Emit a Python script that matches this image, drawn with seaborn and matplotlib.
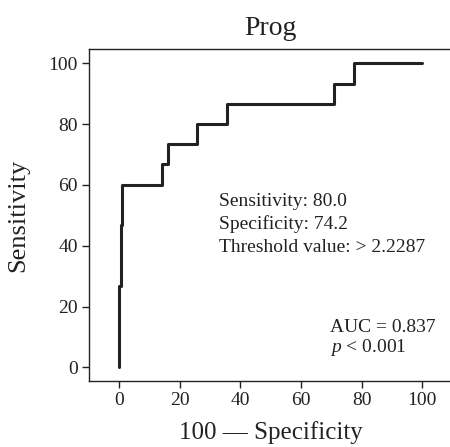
import seaborn as sns
import matplotlib.pyplot as plt
import pandas as pd

# ROC curve points (100 - specificity, sensitivity)
fpr = [0, 0, 0.5, 0.5, 1.0, 1.0, 14.0, 14.0, 16.1, 16.1, 25.8, 25.8,
       35.5, 35.5, 71.0, 71.0, 77.4, 77.4, 100]
tpr = [0, 26.7, 26.7, 46.7, 46.7, 60.0, 60.0, 66.7, 66.7, 73.3, 73.3, 80.0,
       80.0, 86.7, 86.7, 93.3, 93.3, 100, 100]
ticks = [0, 20, 40, 60, 80, 100]

df = pd.DataFrame({"fpr": fpr, "tpr": tpr})

sns.set_style("ticks")
plt.rcParams["font.family"] = ["Liberation Serif", "DejaVu Serif"]
plt.rcParams["mathtext.fontset"] = "custom"
plt.rcParams["mathtext.it"] = "Liberation Serif:italic"

fig = plt.figure(figsize=(4.5, 4.47), dpi=100)
ax = fig.add_axes([0.198, 0.148, 0.806, 0.742])

sns.lineplot(data=df, x="fpr", y="tpr", sort=False, estimator=None,
             color="#222222", linewidth=2.2, ax=ax)

ax.set_xlim(-10, 109.8)
ax.set_ylim(-4.4, 104.6)
ax.set_xticks(ticks)
ax.set_yticks(ticks)
ax.tick_params(labelsize=14, length=5, width=1, pad=3,
               color="#222222", labelcolor="#222222")
for s in ax.spines.values():
    s.set_linewidth(1)
    s.set_color("#222222")

ax.set_title("Prog", fontsize=20, color="#222222", pad=10)
ax.set_xlabel("100 \u2014 Specificity", fontsize=18, color="#222222", labelpad=9)
ax.set_ylabel("Sensitivity", fontsize=19, color="#222222", labelpad=14)

txt = dict(fontsize=14, color="#222222", va="baseline", ha="left")
ax.text(32.8, 53.2, "Sensitivity: 80.0", **txt)
ax.text(32.8, 45.5, "Specificity: 74.2", **txt)
ax.text(32.8, 37.8, "Threshold value: > 2.2287", **txt)
ax.text(69.5, 11.5, "AUC = 0.837", **txt)
ax.text(69.5, 5.1, "$\\it{p}$ < 0.001", **txt)

plt.savefig("out.png", dpi=100)
